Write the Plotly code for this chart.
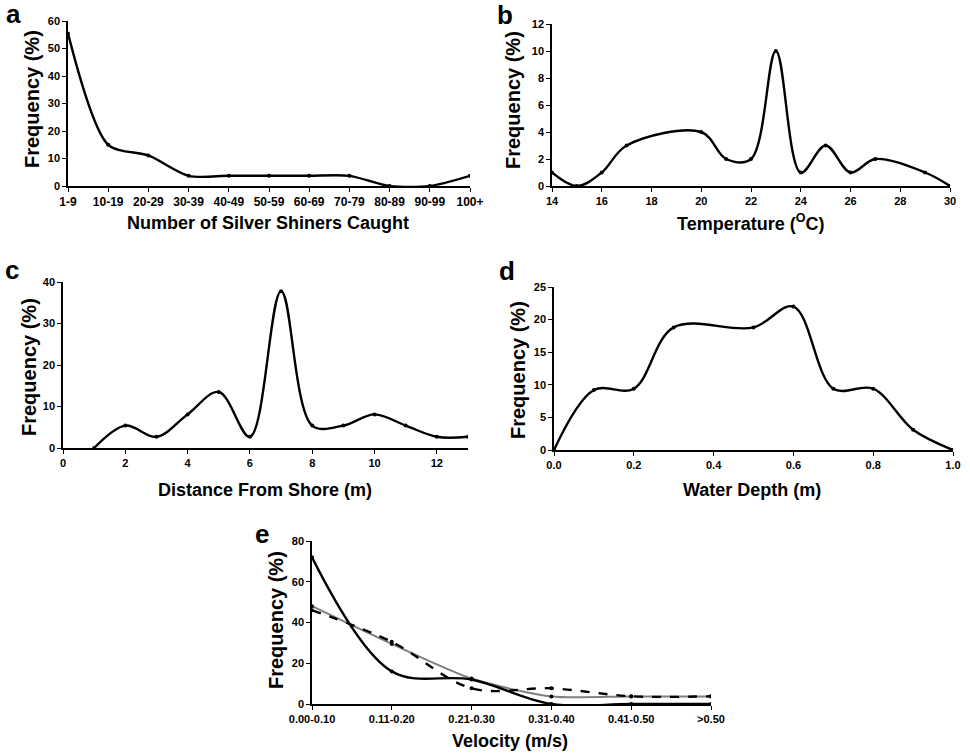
import plotly.graph_objects as go

# ---- data ----
catch_labels = ["1-9", "10-19", "20-29", "30-39", "40-49", "50-59", "60-69", "70-79", "80-89", "90-99", "100+"]
catch_freq = [55.5, 15.0, 11.1, 3.7, 3.7, 3.7, 3.7, 3.7, 0.0, 0.0, 3.7]

temp_x = [14, 15, 16, 17, 20, 21, 22, 23, 24, 25, 26, 27, 29, 30]
temp_freq = [1, 0, 1, 3, 4, 2, 2, 10, 1, 3, 1, 2, 1, 0]

dist_x = [1, 2, 3, 4, 5, 6, 7, 8, 9, 10, 11, 12, 13]
dist_freq = [0.0, 5.4, 2.7, 8.1, 13.5, 2.7, 37.8, 5.4, 5.4, 8.1, 5.4, 2.7, 2.7]

depth_x = [0.0, 0.1, 0.2, 0.3, 0.5, 0.6, 0.7, 0.8, 0.9, 1.0]
depth_freq = [0.0, 9.2, 9.4, 18.8, 18.8, 22.0, 9.4, 9.4, 3.1, 0.0]

vel_labels = ["0.00-0.10", "0.11-0.20", "0.21-0.30", "0.31-0.40", "0.41-0.50", ">0.50"]
vel_black = [72.0, 16.0, 12.0, 0.0, 0.0, 0.0]
vel_gray = [48.0, 29.5, 12.5, 3.7, 3.7, 3.7]
vel_dashed = [46.0, 30.5, 7.7, 7.7, 3.8, 3.8]

FONT = "Arial, Liberation Sans, sans-serif"
W, H = 970, 754

def px(x):
    return x / W

def py(y):
    return 1 - y / H

fig = go.Figure()

def line(x, y, xa, ya, color="black", dash="solid", width=2.4, smoothing=1.0):
    fig.add_trace(go.Scatter(
        x=x, y=y, xaxis=xa, yaxis=ya, mode="lines+markers",
        line=dict(color=color, width=width, shape="spline", smoothing=smoothing, dash=dash),
        marker=dict(color="black", size=4), showlegend=False, hoverinfo="skip"))

line(list(range(len(catch_labels))), catch_freq, "x", "y", smoothing=0.8)
line(temp_x, temp_freq, "x2", "y2")
line(dist_x, dist_freq, "x3", "y3")
line(depth_x, depth_freq, "x4", "y4")
vx = list(range(len(vel_labels)))
line(vx, vel_gray, "x5", "y5", color="#808080", width=2, smoothing=0.7)
line(vx, vel_dashed, "x5", "y5", dash="dash")
line(vx, vel_black, "x5", "y5")

tickfont = dict(family=FONT, size=11, color="black", weight="bold")
axcommon = dict(showgrid=False, zeroline=False, showline=True, linecolor="black", linewidth=1.5,
                ticks="outside", ticklen=4, tickcolor="black", tickwidth=1, tickfont=tickfont,
                automargin=False)

# domains from pixel positions
dom = {
    1: ((68, 470), (21, 186)),
    2: ((552, 950), (24, 186)),
    3: ((63, 468), (282, 448)),
    4: ((554, 953), (287, 450)),
    5: ((312, 711), (541, 704)),
}

layout = dict(width=W, height=H, margin=dict(l=0, r=0, t=0, b=0, autoexpand=False),
              plot_bgcolor="white", paper_bgcolor="white", showlegend=False)

xcfg = {
    1: dict(range=[0, 10], tickvals=list(range(11)), ticktext=catch_labels,
            tickfont=dict(tickfont, size=12)),
    2: dict(range=[14, 30], dtick=2, tick0=14),
    3: dict(range=[0, 13], tickvals=[0, 2, 4, 6, 8, 10, 12]),
    4: dict(range=[0, 1], dtick=0.2, tick0=0, tickformat=".1f"),
    5: dict(range=[0, 5], tickvals=vx, ticktext=vel_labels),
}
ycfg = {
    1: dict(range=[0, 60], dtick=10),
    2: dict(range=[0, 12], dtick=2),
    3: dict(range=[0, 40], dtick=10),
    4: dict(range=[0, 25], dtick=5),
    5: dict(range=[0, 80], dtick=20),
}

for i in range(1, 6):
    (x0, x1), (ytop, ybot) = dom[i]
    xn = "xaxis" if i == 1 else f"xaxis{i}"
    yn = "yaxis" if i == 1 else f"yaxis{i}"
    xa = dict(axcommon, domain=[px(x0), px(x1)], anchor="y" if i == 1 else f"y{i}")
    xa.update(xcfg[i])
    ya = dict(axcommon, domain=[py(ybot), py(ytop)], anchor="x" if i == 1 else f"x{i}")
    ya.update(ycfg[i])
    layout[xn] = xa
    layout[yn] = ya

fig.update_layout(**layout)

ann = []
def txt(x, y, s, size, angle=0):
    ann.append(dict(x=px(x), y=py(y), xref="paper", yref="paper", text=s, showarrow=False,
                    textangle=angle, font=dict(family=FONT, size=size, color="black", weight="bold"),
                    xanchor="center", yanchor="middle"))

# panel letters
txt(13, 14, "a", 26)
txt(505, 15, "b", 26)
txt(12, 270, "c", 26)
txt(507, 271, "d", 26)
txt(262, 534, "e", 26)

# x titles
txt(268, 223, "Number of Silver Shiners Caught", 18)
txt(751, 223, "Temperature (<sup>O</sup>C)", 18)
txt(265, 490, "Distance From Shore (m)", 18)
txt(752, 490, "Water Depth (m)", 18)
txt(510, 741, "Velocity (m/s)", 18)

# y titles
for (x, y) in [(32, 99), (513, 100), (29, 367), (518, 370), (276, 620)]:
    txt(x, y, "Frequency (%)", 20, angle=-90)

fig.update_layout(annotations=ann)
fig.write_html("out.html", config={"displayModeBar": False},
               post_script="document.body.style.margin='0';document.body.style.overflow='hidden';")
